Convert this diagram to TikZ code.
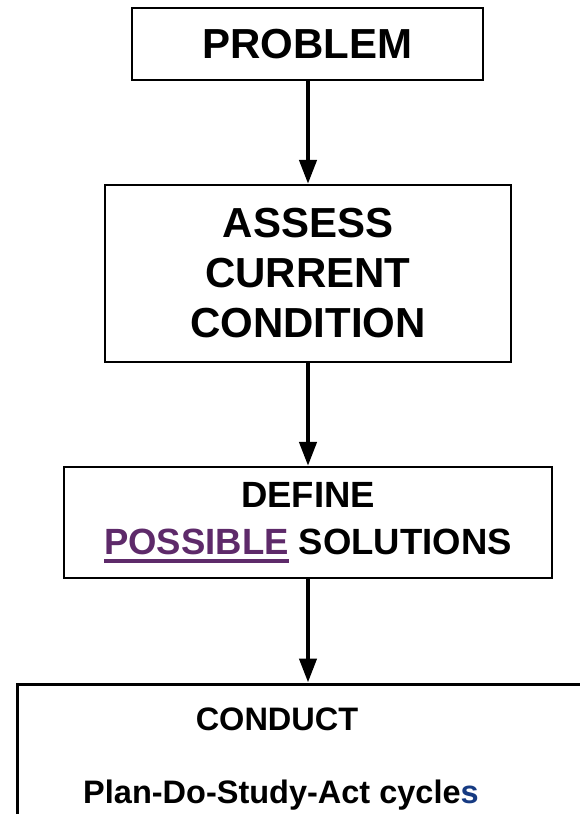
\documentclass[tikz,border=0pt]{standalone}
\usepackage{fontspec}
\setmainfont{Liberation Sans}
\usetikzlibrary{arrows.meta}

\definecolor{possiblepurple}{RGB}{94,42,106}
\definecolor{cyclesblue}{RGB}{22,58,130}

% thick underline drawn in the current colour
\newcommand\thickul[1]{\setbox0\hbox{#1}\rlap{\rule[-8pt]{\wd0}{3.2pt}}\box0}

\tikzset{
  flowbox/.style={draw=black, line width=2.2pt, fill=white, inner sep=0pt,
    align=center, font=\bfseries},
  flowarrow/.style={line width=4.3pt, -{Triangle[width=17pt,length=24pt]}},
  bigtext/.style={font=\bfseries\fontsize{32.5}{40}\selectfont, inner sep=0pt, anchor=base}
}

\begin{document}
\begin{tikzpicture}[x=1pt,y=-1pt]
  \useasboundingbox (0,0) rectangle (580,814);
  \clip (0,0) rectangle (580,814);

  % boxes
  \node[flowbox, minimum width=351pt, minimum height=72pt,
        font=\bfseries\fontsize{42}{50}\selectfont]
        (problem) at (307.5,44) {PROBLEM};

  \node[flowbox, minimum width=406pt, minimum height=177pt,
        font=\bfseries\fontsize{42}{50}\selectfont]
        (assess) at (308,273.5) {ASSESS\\CURRENT\\CONDITION};

  \node[flowbox, minimum width=488pt, minimum height=111pt,
        font=\bfseries\fontsize{36.5}{47}\selectfont]
        (define) at (308,522.5)
        {DEFINE\\{\color{possiblepurple}\thickul{POSSIBLE}} SOLUTIONS};

  % last box runs past the right and bottom edges
  \node[flowbox, line width=3pt, minimum width=620pt, minimum height=240pt]
        (conduct) at (327,804) {};
  \node[bigtext] (conducttitle) at (277,730) {CONDUCT};
  \node[bigtext] (pdsa) at (281,803) {Plan-Do-Study-Act cycle{\color{cyclesblue}s}};

  % connectors
  \draw[flowarrow] (problem.south -| assess.north) -- (assess.north);
  \draw[flowarrow] (assess.south) -- (assess.south |- define.north);
  \draw[flowarrow] (define.south) -- (define.south |- conduct.north);
\end{tikzpicture}
\end{document}
